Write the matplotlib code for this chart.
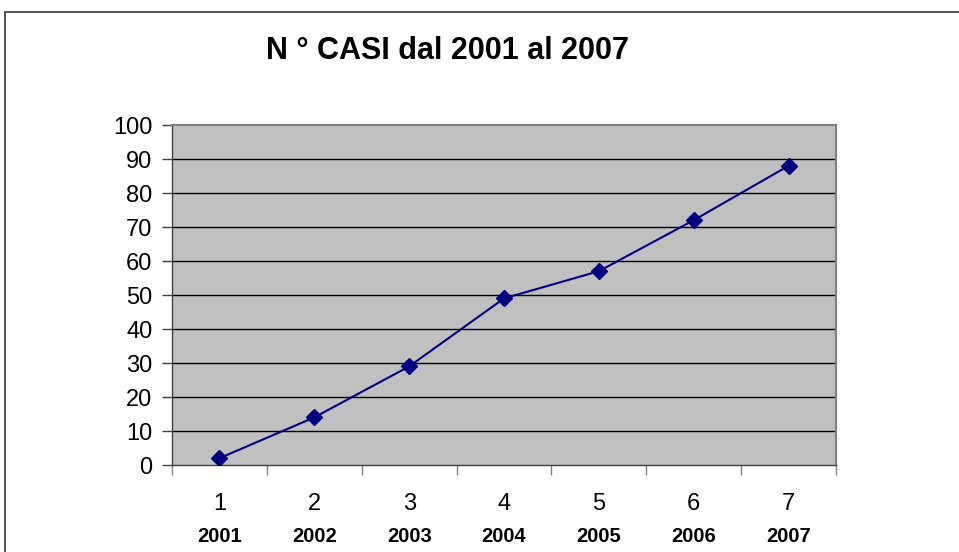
import matplotlib.pyplot as plt
from matplotlib.patches import Rectangle
import matplotlib.transforms as mtransforms

# data
indici = [1, 2, 3, 4, 5, 6, 7]
anni = ['2001', '2002', '2003', '2004', '2005', '2006', '2007']
casi = [2, 14, 29, 49, 57, 72, 88]

plt.rcParams['font.family'] = ['Liberation Sans', 'DejaVu Sans']

W, H = 959, 552
fig = plt.figure(figsize=(W / 100, H / 100), dpi=100)

# outer chart border (runs off the right and bottom edge)
fig.patches.append(Rectangle((5 / W, -0.1), 1.2, 1 - 12 / H + 0.1,
                             transform=fig.transFigure, fill=False,
                             edgecolor='#444444', linewidth=1.3))

# plot area
left, right, top, bottom = 172, 836, 125, 465
ax = fig.add_axes([left / W, 1 - bottom / H, (right - left) / W, (bottom - top) / H])
ax.set_facecolor('#C0C0C0')

ax.plot(indici, casi, color='#000080', linewidth=1.5, marker='D',
        markersize=8, markerfacecolor='#000080', markeredgecolor='#000080', zorder=3)

ax.set_xlim(0.5, 7.5)
ax.set_ylim(0, 100)
ax.set_yticks(range(0, 101, 10))
ax.tick_params(axis='y', labelsize=17, length=7, width=1, color='#404040', pad=7)

# category boundaries get the ticks, labels are placed as text at the centres
ax.set_xticks([i + 0.5 for i in range(0, 8)])
ax.set_xticklabels([])
ax.tick_params(axis='x', length=7, width=1, color='#808080')

trans = mtransforms.blended_transform_factory(ax.transData, fig.transFigure)
for i, a in zip(indici, anni):
    ax.text(i, 1 - 504 / H, str(i), transform=trans, ha='center', va='center',
            fontsize=17)
    ax.text(i, 1 - 536 / H, a, transform=trans, ha='center', va='center',
            fontsize=14.5, fontweight='bold')

for y in range(10, 100, 10):
    ax.axhline(y, color='black', linewidth=1, zorder=1)

for s in ['top', 'right']:
    ax.spines[s].set_color('#808080')
    ax.spines[s].set_linewidth(1.5)
for s in ['left', 'bottom']:
    ax.spines[s].set_color('#404040')
    ax.spines[s].set_linewidth(1)

fig.text(448 / W, 1 - 51 / H, 'N ° CASI dal 2001 al 2007', ha='center', va='center',
         fontsize=22, fontweight='bold')

fig.savefig('out.png', dpi=100)
